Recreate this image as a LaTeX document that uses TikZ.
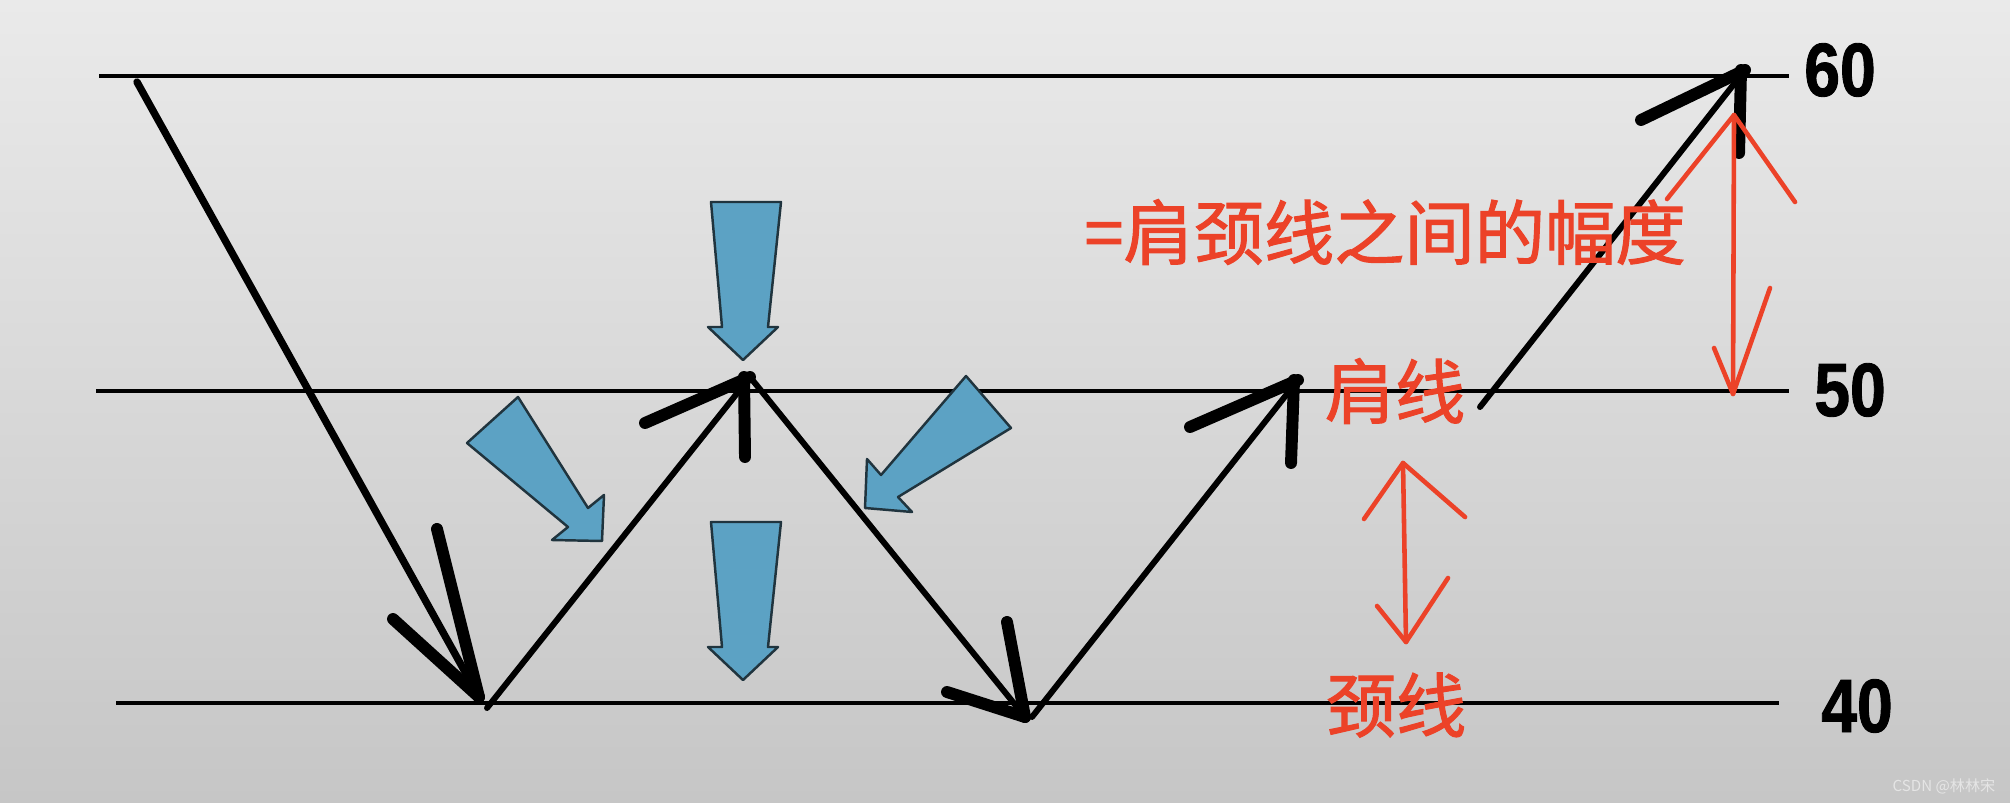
\documentclass[tikz,border=0pt]{standalone}
\usepackage{fontspec}
\newfontfamily\cjk{Noto Sans CJK SC}
\newfontfamily\cjkheavy{Noto Sans CJK SC}[FakeBold=1.4]
\newfontfamily\numfont{Liberation Sans Bold}[FakeStretch=0.85,FakeBold=1.2]

\definecolor{bgtop}{RGB}{234,234,234}
\definecolor{bgmid}{RGB}{224,224,224}
\definecolor{bgbot}{RGB}{198,198,198}
\definecolor{pushfill}{RGB}{92,162,196}
\definecolor{pushedge}{RGB}{32,52,62}
\definecolor{markred}{RGB}{236,66,40}

\tikzset{
  level/.style={line width=0.9pt},
  wave/.style={line width=1.7pt, line cap=round},
  brush/.style={line width=3.4pt, line cap=round},
  push/.style={fill=pushfill, draw=pushedge, line width=0.7pt, line join=round},
  redpen/.style={draw=markred, line width=1.3pt, line cap=round, line join=round},
  redtext/.style={text=markred, font=\cjkheavy\fontsize{20}{24}\selectfont, inner sep=0pt},
  pricetag/.style={font=\numfont\fontsize{21.5}{24}\selectfont, inner sep=0pt},
}

\begin{document}
\begin{tikzpicture}
      \useasboundingbox (0,0) rectangle (20.10,8.02);
      \shade[top color=bgtop, middle color=bgmid, bottom color=bgbot] (0,0) rectangle (20.10,8.02);
      \path
        (0.99,7.26) coordinate (top60)
        (17.89,7.26) coordinate (end60)
        (0.96,4.11) coordinate (top50)
        (17.89,4.11) coordinate (end50)
        (1.16,0.99) coordinate (top40)
        (17.79,0.99) coordinate (end40)
        (18.40,7.32) node[pricetag] (p60) {60}
        (18.50,4.12) node[pricetag] (p50) {50}
        (18.57,0.96) node[pricetag] (p40) {40};
      \begin{scope}[level]
        \draw (top60) -- (end60);
        \draw (top50) -- (end50);
        \draw (top40) -- (end40);
      \end{scope}
      \path
        (1.37,7.20) coordinate (start)
        (4.79,1.05) coordinate (low1)
        (4.87,0.94) coordinate (up1)
        (7.50,4.25) coordinate (peak)
        (10.25,0.85) coordinate (low2)
        (10.32,0.85) coordinate (up2)
        (12.98,4.22) coordinate (shoulder)
        (14.80,3.95) coordinate (breakout)
        (17.45,7.32) coordinate (target);
      \begin{scope}[wave]
        \draw[line width=2.1pt] (start) -- (low1);
        \draw (up1) -- (peak);
        \draw (peak) -- (low2);
        \draw (up2) -- (shoulder);
        \draw (breakout) -- (target);
      \end{scope}
      \begin{scope}[brush]
        \draw (low1) -- ++(-0.42,1.68);
        \draw (low1) -- ++(-0.86,0.78);
        \draw (peak) -- ++(-1.05,-0.46);
        \draw ([xshift=-0.6mm]peak) -- ++(0.01,-0.80);
        \draw (low2) -- ++(-0.78,0.25);
        \draw (low2) -- ++(-0.18,0.95);
        \draw (shoulder) -- ++(-1.08,-0.47);
        \draw ([xshift=-0.4mm]shoulder) -- ++(-0.03,-0.83);
        \draw (target) -- ++(-1.04,-0.50);
        \draw ([xshift=-0.4mm]target) -- ++(-0.02,-0.83);
      \end{scope}
      \draw[push] (7.11,6.00) -- (7.81,6.00) -- (7.68,4.75) -- (7.78,4.75) -- (7.43,4.42) -- (7.08,4.75) -- (7.22,4.75) -- cycle;
      \draw[push] (7.11,2.80) -- (7.81,2.80) -- (7.68,1.55) -- (7.78,1.55) -- (7.43,1.22) -- (7.08,1.55) -- (7.22,1.55) -- cycle;
      \draw[push] (5.18,4.05) -- (4.67,3.59) -- (5.68,2.75) -- (5.52,2.62) -- (6.02,2.61) -- (6.04,3.07) -- (5.88,2.94) -- cycle;
      \draw[push] (9.66,4.26) -- (10.11,3.74) -- (8.98,3.05) -- (9.12,2.90) -- (8.65,2.94) -- (8.67,3.43) -- (8.81,3.27) -- cycle;
      \path
        (13.85,5.70) node[redtext] (range) {=肩颈线之间的幅度}
        (13.95,4.11) node[redtext] (shoulderline) {肩线}
        (13.96,0.97) node[redtext] (neckline) {颈线}
        (14.03,3.39) coordinate (gaptop)
        (14.06,1.60) coordinate (gapbot)
        (17.34,6.87) coordinate (spantop)
        (17.33,4.08) coordinate (spanbot);
      \begin{scope}[redpen]
        \draw (gaptop) -- (gapbot);
        \draw (gaptop) ++(-0.39,-0.56) -- (gaptop) -- ++(0.62,-0.54);
        \draw (gapbot) ++(-0.29,0.36) -- (gapbot) -- ++(0.42,0.64);
        \draw (spantop) -- (spanbot);
        \draw (spantop) ++(-0.67,-0.84) -- (spantop) -- ++(0.61,-0.87);
        \draw (spanbot) ++(-0.19,0.46) -- (spanbot) -- ++(0.37,1.06);
      \end{scope}
      \node[font=\cjk\fontsize{4.3}{5}\selectfont, text=white!90!black, inner sep=0pt] (mark) at (19.44,0.16) {CSDN @林林宋};
    \end{tikzpicture}
\end{document}
